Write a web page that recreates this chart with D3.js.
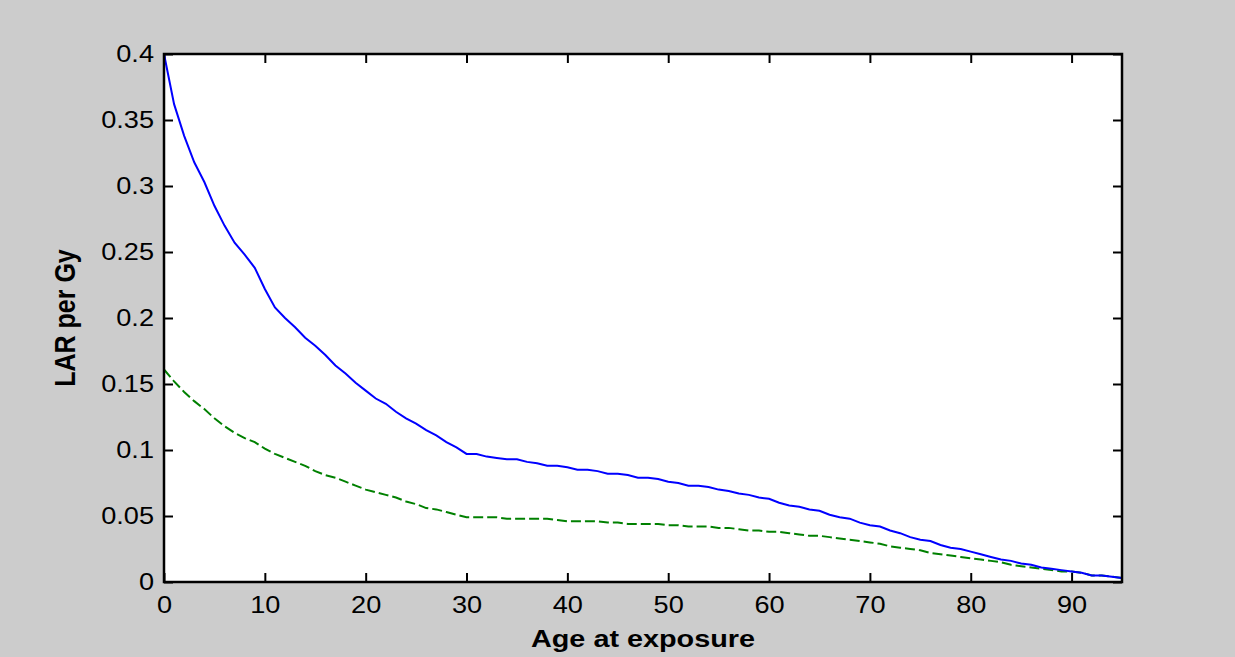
<!DOCTYPE html>
<html>
<head>
<meta charset="utf-8">
<script src="https://cdn.jsdelivr.net/npm/d3@7"></script>
<style>
    html, body { margin: 0; padding: 0; background: #cccccc; }
    svg { display: block; }
    text { font-family: "Liberation Sans", Arial, sans-serif; fill: #000; }
</style>
</head>
<body>
<svg id="vis" width="1235" height="657"></svg>
<script>
// ages 0..95 at exposure
const AGES = d3.range(0, 96);

// LAR per Gy, solid blue curve
const LAR_BLUE = [
    0.400, 0.362, 0.338, 0.318, 0.303, 0.285, 0.270, 0.257, 0.248, 0.238,
    0.222, 0.208, 0.200, 0.193, 0.185, 0.179, 0.172, 0.164, 0.158, 0.151,
    0.145, 0.139, 0.135, 0.129, 0.124, 0.120, 0.115, 0.111, 0.106, 0.102,
    0.097, 0.097, 0.095, 0.094, 0.093, 0.093, 0.091, 0.090, 0.088, 0.088,
    0.087, 0.085, 0.085, 0.084, 0.082, 0.082, 0.081, 0.079, 0.079, 0.078,
    0.076, 0.075, 0.073, 0.073, 0.072, 0.070, 0.069, 0.067, 0.066, 0.064,
    0.063, 0.060, 0.058, 0.057, 0.055, 0.054, 0.051, 0.049, 0.048, 0.045,
    0.043, 0.042, 0.039, 0.037, 0.034, 0.032, 0.031, 0.028, 0.026, 0.025,
    0.023, 0.021, 0.019, 0.017, 0.016, 0.014, 0.013, 0.011, 0.010, 0.009,
    0.008, 0.007, 0.005, 0.005, 0.004, 0.003
];

// LAR per Gy, dashed green curve
const LAR_GREEN = [
    0.161, 0.152, 0.144, 0.137, 0.131, 0.124, 0.118, 0.113, 0.109, 0.106,
    0.101, 0.097, 0.094, 0.091, 0.088, 0.084, 0.081, 0.079, 0.076, 0.073,
    0.070, 0.068, 0.066, 0.064, 0.061, 0.059, 0.056, 0.055, 0.053, 0.051,
    0.049, 0.049, 0.049, 0.049, 0.048, 0.048, 0.048, 0.048, 0.048, 0.047,
    0.046, 0.046, 0.046, 0.046, 0.045, 0.045, 0.044, 0.044, 0.044, 0.044,
    0.043, 0.043, 0.042, 0.042, 0.042, 0.041, 0.041, 0.040, 0.039, 0.039,
    0.038, 0.038, 0.037, 0.036, 0.035, 0.035, 0.034, 0.033, 0.032, 0.031,
    0.030, 0.029, 0.027, 0.026, 0.025, 0.024, 0.022, 0.021, 0.020, 0.019,
    0.018, 0.017, 0.016, 0.015, 0.013, 0.012, 0.011, 0.010, 0.009, 0.008,
    0.008, 0.007, 0.005, 0.005, 0.004, 0.003
];

const X_TICKS = [0, 10, 20, 30, 40, 50, 60, 70, 80, 90];
const Y_TICKS = [0, 0.05, 0.1, 0.15, 0.2, 0.25, 0.3, 0.35, 0.4];

// plot box in pixels
const BOX = {left: 164, right: 1122, top: 54, bottom: 582};
const STRETCH = 1.18;   // the original text looks wider than it is tall
const TICK = 9;

const svg = d3.select("#vis");

svg.append("rect")
    .attr("width", 1235).attr("height", 657)
    .style("fill", "#cccccc");

svg.append("rect")
    .attr("x", BOX.left).attr("y", BOX.top)
    .attr("width", BOX.right - BOX.left)
    .attr("height", BOX.bottom - BOX.top)
    .style("fill", "#ffffff");

const x = d3.scaleLinear().domain([0, 95]).range([BOX.left, BOX.right]);
const y = d3.scaleLinear().domain([0, 0.4]).range([BOX.bottom, BOX.top]);

const fmtY = d => d === 0 ? "0" : String(+d.toFixed(2));

// bottom axis, inward ticks
const gx = svg.append("g")
    .attr("transform", `translate(0, ${BOX.bottom})`)
    .call(d3.axisBottom(x).tickValues(X_TICKS).tickSizeInner(-TICK).tickSizeOuter(0).tickPadding(15));
// left axis
const gy = svg.append("g")
    .attr("transform", `translate(${BOX.left}, 0)`)
    .call(d3.axisLeft(y).tickValues(Y_TICKS).tickFormat(fmtY).tickSizeInner(-TICK).tickSizeOuter(0).tickPadding(8.5));
// top and right: ticks only
const gxt = svg.append("g")
    .attr("transform", `translate(0, ${BOX.top})`)
    .call(d3.axisTop(x).tickValues(X_TICKS).tickSizeInner(-TICK).tickSizeOuter(0).tickFormat(""));
const gyr = svg.append("g")
    .attr("transform", `translate(${BOX.right}, 0)`)
    .call(d3.axisRight(y).tickValues(Y_TICKS).tickSizeInner(-TICK).tickSizeOuter(0).tickFormat(""));

[gx, gy, gxt, gyr].forEach(function(g){
    g.select(".domain").remove();
    g.selectAll(".tick line").style("stroke", "#000").style("stroke-width", 2);
    g.selectAll(".tick text")
        .style("font-size", "23px")
        .style("font-family", "'Liberation Sans', Arial, sans-serif")
        .attr("transform", `scale(${STRETCH},1)`);
});

// data lines
const line = d3.line()
    .x(function(d, i){ return x(AGES[i]); })
    .y(function(d){ return y(d); });

svg.append("path")
    .datum(LAR_GREEN)
    .attr("d", line)
    .style("fill", "none")
    .style("stroke", "#008000")
    .style("stroke-width", 2)
    .style("stroke-dasharray", "10,4");

svg.append("path")
    .datum(LAR_BLUE)
    .attr("d", line)
    .style("fill", "none")
    .style("stroke", "#0000ff")
    .style("stroke-width", 2);

// box
svg.append("rect")
    .attr("x", BOX.left).attr("y", BOX.top)
    .attr("width", BOX.right - BOX.left)
    .attr("height", BOX.bottom - BOX.top)
    .style("fill", "none")
    .style("stroke", "#000")
    .style("stroke-width", 2.5);

// axis titles
svg.append("text")
    .attr("transform", `translate(${(BOX.left + BOX.right) / 2}, 647) scale(1.2,1)`)
    .style("text-anchor", "middle")
    .style("font-weight", "bold")
    .style("font-size", "24px")
    .text("Age at exposure");

svg.append("text")
    .attr("transform", `translate(75, ${(BOX.top + BOX.bottom) / 2}) scale(1.18,1) rotate(-90)`)
    .style("text-anchor", "middle")
    .style("font-weight", "bold")
    .style("font-size", "25px")
    .text("LAR per Gy");
</script>
</body>
</html>
